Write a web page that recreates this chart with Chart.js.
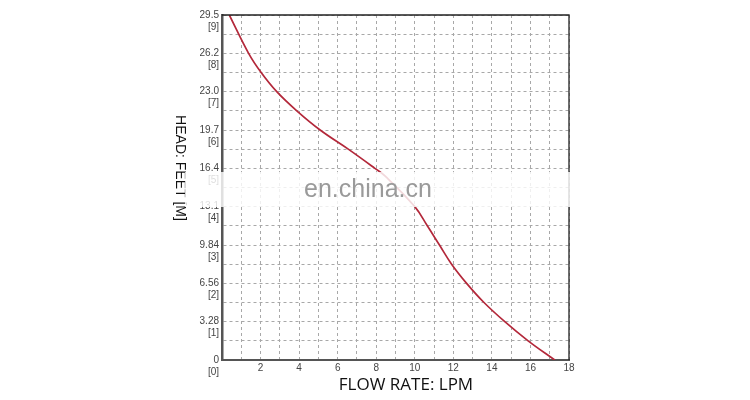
<!DOCTYPE html>
<html>
<head>
<meta charset="utf-8">
<script src="https://cdn.jsdelivr.net/npm/chart.js@4.4.1/dist/chart.umd.min.js"></script>
<style>
  body { margin: 0; background: #fff; }
  canvas { display: block; }
</style>
</head>
<body>
<canvas id="pumpChart" width="750" height="400"></canvas>
<script>
// pump curve: flow in LPM, head in metres
const flowLpm = [0.38, 1.38, 2.03, 2.84, 3.88, 5.09, 6.55, 7.93, 8.48, 10.0, 10.65, 11.28, 11.91, 12.69, 13.59, 14.67, 15.88, 17.26];
const headM = [9.0, 8.0, 7.5, 7.0, 6.5, 6.0, 5.5, 5.0, 4.79, 4.0, 3.5, 3.0, 2.5, 2.0, 1.5, 1.0, 0.5, 0.0];
const headFeetLabels = ['0', '3.28', '6.56', '9.84', '13.1', '16.4', '19.7', '23.0', '26.2', '29.5'];
const flowTickLabels = ['2', '4', '6', '8', '10', '12', '14', '16', '18'];

const points = flowLpm.map((x, i) => ({ x: x, y: headM[i] }));

const frameAndText = {
  id: 'frameAndText',
  afterDraw(chart) {
    const c = chart.ctx;
    const a = chart.chartArea;
    c.save();
    // top and right edges of the frame
    c.strokeStyle = '#222';
    c.lineWidth = 1.3;
    c.beginPath();
    c.moveTo(a.left, a.top);
    c.lineTo(a.right, a.top);
    c.lineTo(a.right, a.bottom);
    c.stroke();

    // x title
    c.fillStyle = '#111';
    c.font = '17px "Open Sans", sans-serif';
    c.textAlign = 'center';
    c.textBaseline = 'middle';
    c.fillText('FLOW RATE: LPM', 406, 385);

    // y title, reading top to bottom
    c.translate(180, 168);
    c.rotate(Math.PI / 2);
    c.font = '14px "Liberation Sans", Arial, sans-serif';
    c.fillText('HEAD: FEET [M]', 0, 0);
    c.restore();

    // watermark band
    c.save();
    c.fillStyle = 'rgba(255,255,255,0.82)';
    c.fillRect(185, 172, 387, 35);
    c.fillStyle = '#9a9a9a';
    c.font = '25px "Liberation Sans", Arial, sans-serif';
    c.textAlign = 'center';
    c.textBaseline = 'middle';
    c.fillText('en.china.cn', 368, 190);
    c.restore();
  }
};

const ctx = document.getElementById('pumpChart').getContext('2d');

const pumpChart = new Chart(ctx, {
  type: 'line',
  data: {
    datasets: [
      {
        label: 'Head',
        data: points,
        borderColor: '#b3283a',
        borderWidth: 1.7,
        pointRadius: 0,
        tension: 0.4,
        fill: false,
      }
    ]
  },
  options: {
    responsive: false,
    animation: false,
    devicePixelRatio: 1,
    layout: {
      padding: { left: 188, right: 181, top: 12, bottom: 0 }
    },
    scales: {
      x: {
        type: 'linear',
        min: 0,
        max: 18,
        afterFit(scale) { scale.height = 40; },
        ticks: {
          stepSize: 1,
          autoSkip: false,
          maxRotation: 0,
          padding: 2,
          color: '#444',
          font: { family: '"Liberation Sans", Arial, sans-serif', size: 10 },
          callback: function (value) {
            const i = flowTickLabels.indexOf(String(value));
            return i >= 0 ? flowTickLabels[i] : '';
          }
        },
        grid: {
          color: '#a8a8a8',
          lineWidth: 1,
          drawTicks: false
        },
        border: {
          display: true,
          color: '#555',
          width: 2,
          dash: [3, 3]
        }
      },
      y: {
        min: 0,
        max: 9,
        afterFit(scale) { scale.width = 34; },
        ticks: {
          stepSize: 0.5,
          autoSkip: false,
          padding: 3,
          labelOffset: 6,
          color: '#444',
          font: { family: '"Liberation Sans", Arial, sans-serif', size: 10, lineHeight: 1.2 },
          callback: function (value) {
            if (!Number.isInteger(value)) return '';
            return [headFeetLabels[value], '[' + value + ']'];
          }
        },
        grid: {
          color: '#a8a8a8',
          lineWidth: 1,
          drawTicks: false
        },
        border: {
          display: true,
          color: '#555',
          width: 2.5,
          dash: [3, 3]
        }
      }
    },
    plugins: {
      legend: { display: false },
      tooltip: { enabled: false }
    }
  },
  plugins: [frameAndText]
});
</script>
</body>
</html>
